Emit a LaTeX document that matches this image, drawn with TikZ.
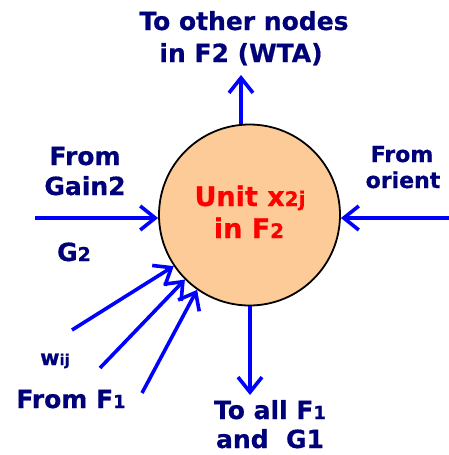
\documentclass[tikz,border=0pt]{standalone}
\usepackage{fontspec}
\setmainfont{DejaVu Sans}[BoldFeatures={FakeBold=0.6}]
\usetikzlibrary{arrows.meta}
\definecolor{navy}{RGB}{0,0,120}
\definecolor{peach}{RGB}{253,203,152}
\definecolor{arrblue}{RGB}{0,0,255}
\begin{document}
\begin{tikzpicture}[x=1pt,y=-1pt,
  lbl/.style={text=navy,font=\bfseries\fontsize{25}{32}\selectfont,align=center,inner sep=0pt,anchor=base},
  lblsm/.style={text=navy,font=\bfseries\fontsize{22}{26}\selectfont,align=center,inner sep=0pt,anchor=base},
  redlbl/.style={text=red,font=\bfseries\fontsize{27}{32}\selectfont,anchor=base,inner sep=0pt},
  arr/.style={draw=arrblue,line width=3.6pt,-{Straight Barb[length=15pt,width=24pt,line width=3.6pt]}},
  unit/.style={circle,draw=black,line width=1.8pt,fill=peach,minimum size=181pt,inner sep=0pt}]
\useasboundingbox (0,0) rectangle (449,455);
\node[unit] (u) at (249.5,215) {};
\node[redlbl] (t1) at (250,206) {Unit x{\fontsize{20}{22}\selectfont2j}};
\node[redlbl] (t2) at (249,238) {in F{\fontsize{20}{22}\selectfont2}};
% labels
\node[lbl] (top1) at (244,30) {To other nodes};
\node[lbl] (top2) at (241,62) {in F2 (WTA)};
\node[lbl] (g1) at (85,165) {From};
\node[lbl] (g2) at (85,195) {Gain2};
\node[lbl] (G2) at (74,261) {G{\fontsize{19}{20}\selectfont2}};
\node[lblsm] (o1) at (402,162) {From};
\node[lblsm] (o2) at (403,188) {orient};
\node[text=navy,font=\bfseries\fontsize{21}{22}\selectfont,anchor=base,inner sep=0pt] (w) at (55,365) {w{\fontsize{15}{16}\selectfont ij}};
\node[lbl] (f1) at (71,408) {From F{\fontsize{18}{18}\selectfont1}};
\node[lbl] (b1) at (270,419) {To all F{\fontsize{18}{18}\selectfont1}};
\node[lbl] (b2) at (270,448) {and~~G1};
% arrow ends
\coordinate (ptop) at (241,75);
\coordinate (pbot) at (250,395);
\coordinate (pleft) at (35,218);
\coordinate (pright) at (449,218);
\coordinate (s1) at (72,330);
\coordinate (s2) at (100,368);
\coordinate (s3) at (142,393);
% connectors
\draw[arr] (ptop |- u.north) -- (ptop);
\draw[arr] (pbot |- u.south) -- (pbot);
\draw[arr] (pleft) -- (pleft -| u.west);
\draw[arr] (pright) -- (pright -| u.east);
\draw[arr] (s1) -- (u.214);
\draw[arr] (s2) -- (u.225);
\draw[arr] (s3) -- (u.235);
\end{tikzpicture}
\end{document}
